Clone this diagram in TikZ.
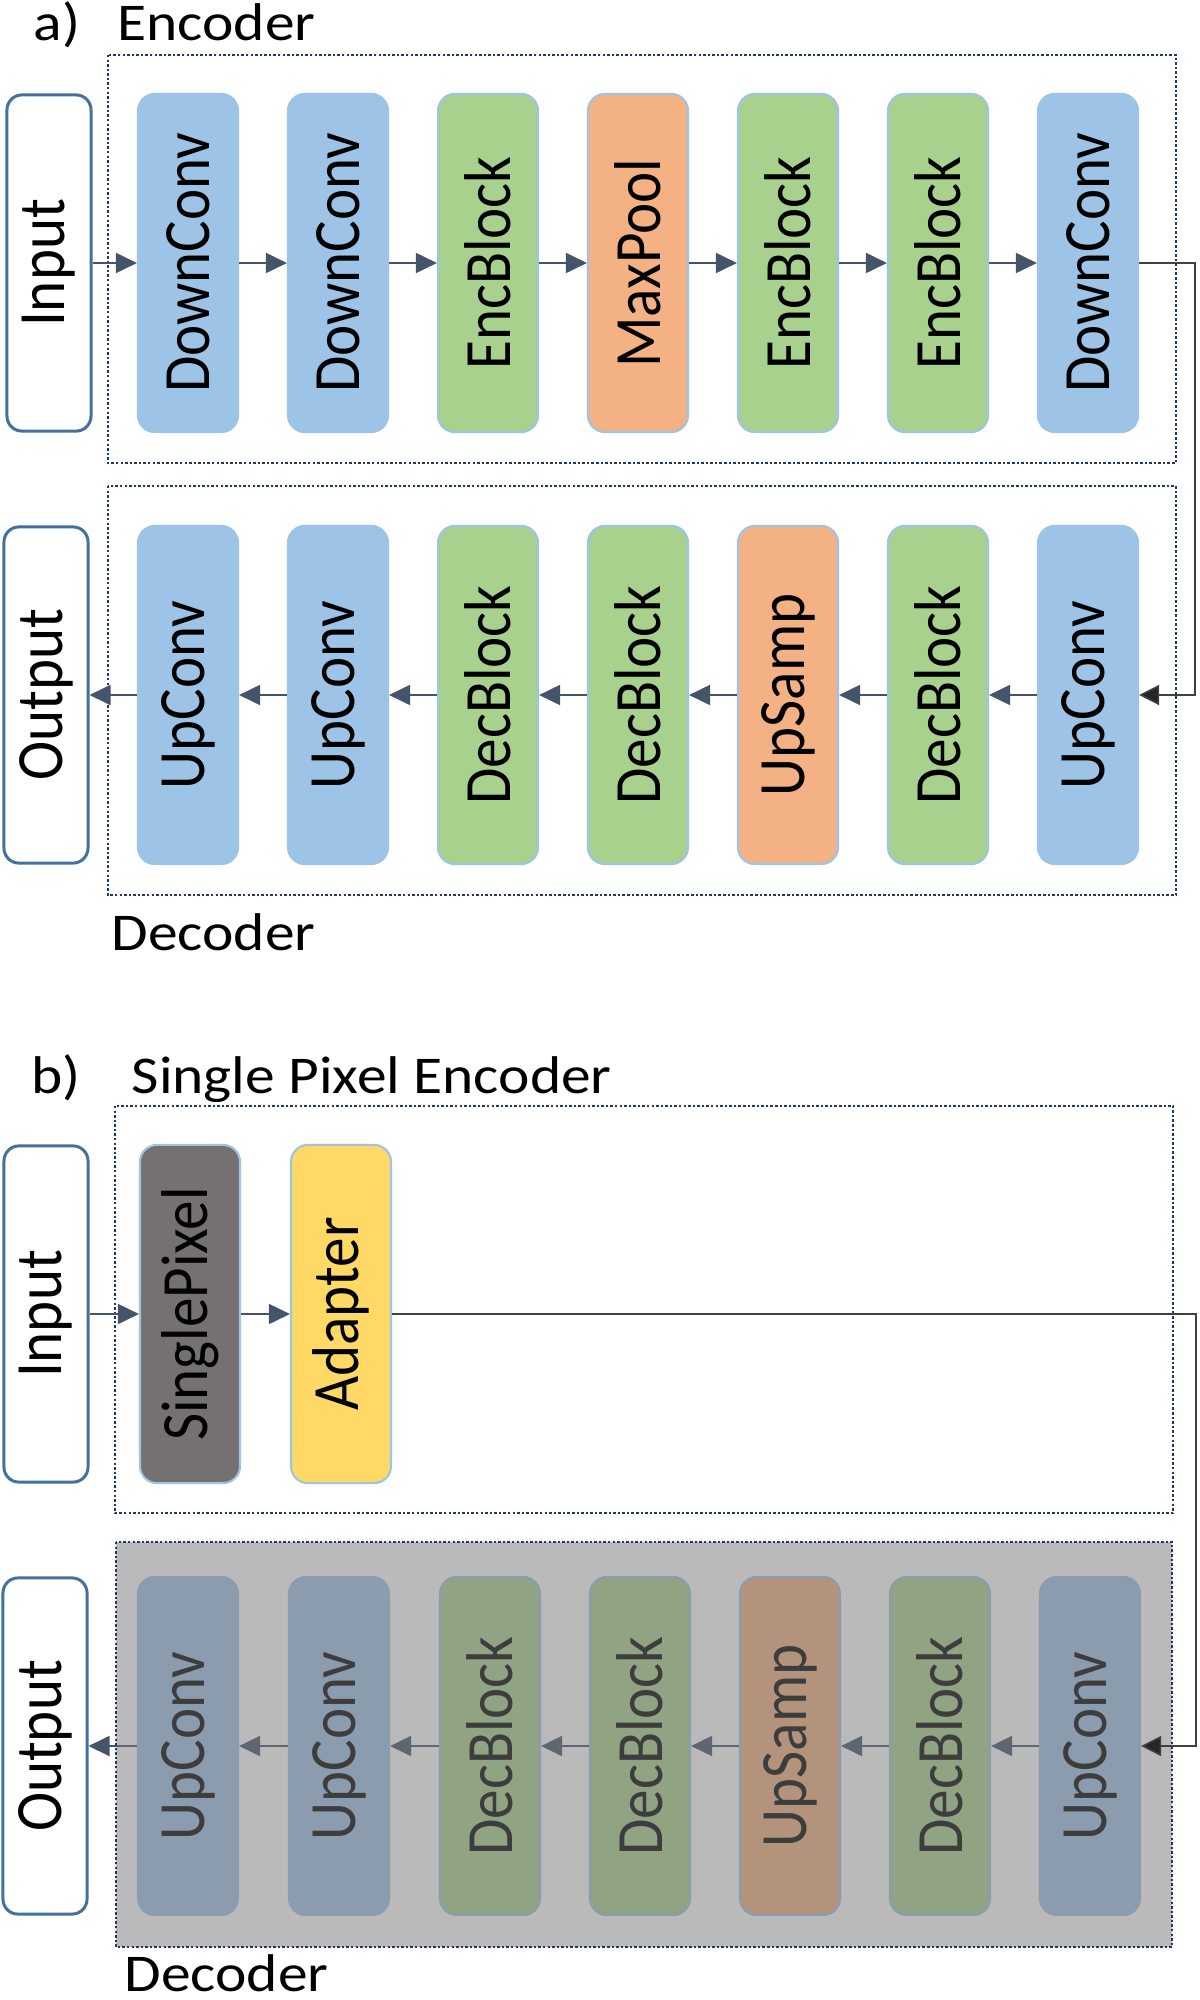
\documentclass[tikz,border=0pt]{standalone}
\usepackage{fontspec}
\setmainfont{Carlito}
\usepackage{graphicx}
\usetikzlibrary{arrows.meta}

\definecolor{convblue}{HTML}{9DC3E6}
\definecolor{blockgreen}{HTML}{A9D18E}
\definecolor{poolorange}{HTML}{F4B183}
\definecolor{pixelgray}{HTML}{767171}
\definecolor{adaptyellow}{HTML}{FFD966}
\definecolor{ioblue}{HTML}{41719C}
\definecolor{arrowslate}{HTML}{44546A}
\definecolor{framenavy}{HTML}{203864}
\definecolor{shadegray}{RGB}{120,120,120}

% labels are a little wider than high in the figure
\newcommand{\vtext}[1]{\scalebox{1.12}[1]{\rotatebox{90}{#1}}}
\newcommand{\htext}[1]{\scalebox{1.12}[1]{#1}}

\tikzset{
  layer/.style={rectangle, rounded corners=0.17cm, minimum width=1cm, minimum height=3.38cm,
    inner sep=0pt, line width=0.6pt, font=\fontsize{16.8}{20}\selectfont},
  conv/.style={layer, fill=convblue, draw=convblue},
  blk/.style={layer, fill=blockgreen, draw=convblue},
  pool/.style={layer, fill=poolorange, draw=convblue},
  pixel/.style={layer, fill=pixelgray, draw=convblue},
  adapt/.style={layer, fill=adaptyellow, draw=convblue},
  io/.style={rectangle, rounded corners=0.15cm, draw=ioblue, line width=0.85pt, fill=white,
    minimum width=0.84cm, minimum height=3.36cm, inner sep=0pt, font=\fontsize{16.8}{20}\selectfont},
  flow/.style={draw=arrowslate, line width=0.55pt, -{Triangle[length=0.21cm,width=0.2cm]}},
  loopback/.style={draw=black!75, line width=0.45pt, -{Triangle[length=0.2cm,width=0.2cm,fill=black!85]}},
  frame/.style={draw=framenavy, line width=0.75pt, dash pattern=on 0.7pt off 0.6pt},
  title/.style={anchor=base west, inner sep=0pt, font=\fontsize{15.1}{18}\selectfont},
}

\begin{document}
\begin{tikzpicture}[x=0.01cm, y=-0.01cm]
    \useasboundingbox (0,0) rectangle (1200,2000);

    % a) encoder / decoder
    \node[title] (alab) at (33,41) {\htext{a)}};
    \node[title] (enctitle) at (117,41) {\htext{Encoder}};
    \draw[frame] (108,55) rectangle (1176,463);
    \draw[frame] (108,486) rectangle (1176,895);
    \node[title] (dectitle) at (111,950) {\htext{Decoder}};

    \node[io] (in) at (49,263) {\vtext{Input}};
    \node[conv] (enc1) at (188,263) {\vtext{DownConv}};
    \node[conv] (enc2) at (338,263) {\vtext{DownConv}};
    \node[blk]  (enc3) at (488,263) {\vtext{EncBlock}};
    \node[pool] (enc4) at (638,263) {\vtext{MaxPool}};
    \node[blk]  (enc5) at (788,263) {\vtext{EncBlock}};
    \node[blk]  (enc6) at (938,263) {\vtext{EncBlock}};
    \node[conv] (enc7) at (1088,263) {\vtext{DownConv}};

    \node[io] (out) at (46,695) {\vtext{Output}};
    \node[conv] (dec1) at (188,695) {\vtext{UpConv}};
    \node[conv] (dec2) at (338,695) {\vtext{UpConv}};
    \node[blk]  (dec3) at (488,695) {\vtext{DecBlock}};
    \node[blk]  (dec4) at (638,695) {\vtext{DecBlock}};
    \node[pool] (dec5) at (788,695) {\vtext{UpSamp}};
    \node[blk]  (dec6) at (938,695) {\vtext{DecBlock}};
    \node[conv] (dec7) at (1088,695) {\vtext{UpConv}};

    \foreach \a/\b in {in/enc1, enc1/enc2, enc2/enc3, enc3/enc4, enc4/enc5, enc5/enc6, enc6/enc7}
        \draw[flow] (\a.east) -- (\b.west);
    \foreach \a/\b in {dec7/dec6, dec6/dec5, dec5/dec4, dec4/dec3, dec3/dec2, dec2/dec1, dec1/out}
        \draw[flow] (\a.west) -- (\b.east);

    \coordinate (railA) at (1195,263);
    \draw[loopback] (enc7.east) -- (railA) |- (dec7.east);

    % b) single pixel encoder
    \node[title] (blab) at (31,1093) {\htext{b)}};
    \node[title] (spetitle) at (131,1093) {\htext{Single Pixel Encoder}};
    \draw[frame] (115,1106) rectangle (1173,1513);

    \node[io] (pin) at (46,1314) {\vtext{Input}};
    \node[pixel] (pix) at (190,1314) {\vtext{SinglePixel}};
    \node[adapt] (adapter) at (341,1314) {\vtext{Adapter}};
    \draw[flow] (pin.east) -- (pix.west);
    \draw[flow] (pix.east) -- (adapter.west);

    \node[io] (pout) at (45,1746) {\vtext{Output}};
    \node[conv] (pdec1) at (188,1746) {\vtext{UpConv}};
    \node[conv] (pdec2) at (339,1746) {\vtext{UpConv}};
    \node[blk]  (pdec3) at (490,1746) {\vtext{DecBlock}};
    \node[blk]  (pdec4) at (640,1746) {\vtext{DecBlock}};
    \node[pool] (pdec5) at (790,1746) {\vtext{UpSamp}};
    \node[blk]  (pdec6) at (940,1746) {\vtext{DecBlock}};
    \node[conv] (pdec7) at (1090,1746) {\vtext{UpConv}};

    \foreach \a/\b in {pdec7/pdec6, pdec6/pdec5, pdec5/pdec4, pdec4/pdec3, pdec3/pdec2,
                       pdec2/pdec1, pdec1/pout}
        \draw[flow] (\a.west) -- (\b.east);

    % greyed-out decoder
    \fill[shadegray, fill opacity=0.51] (116,1542) rectangle (1172,1947);
    \draw[frame] (116,1542) rectangle (1172,1947);
    \node[title] (pdectitle) at (124,1991) {\htext{Decoder}};

    \coordinate (railB) at (1196,1314);
    \draw[loopback] (adapter.east) -- (railB) |- (pdec7.east);
\end{tikzpicture}
\end{document}
